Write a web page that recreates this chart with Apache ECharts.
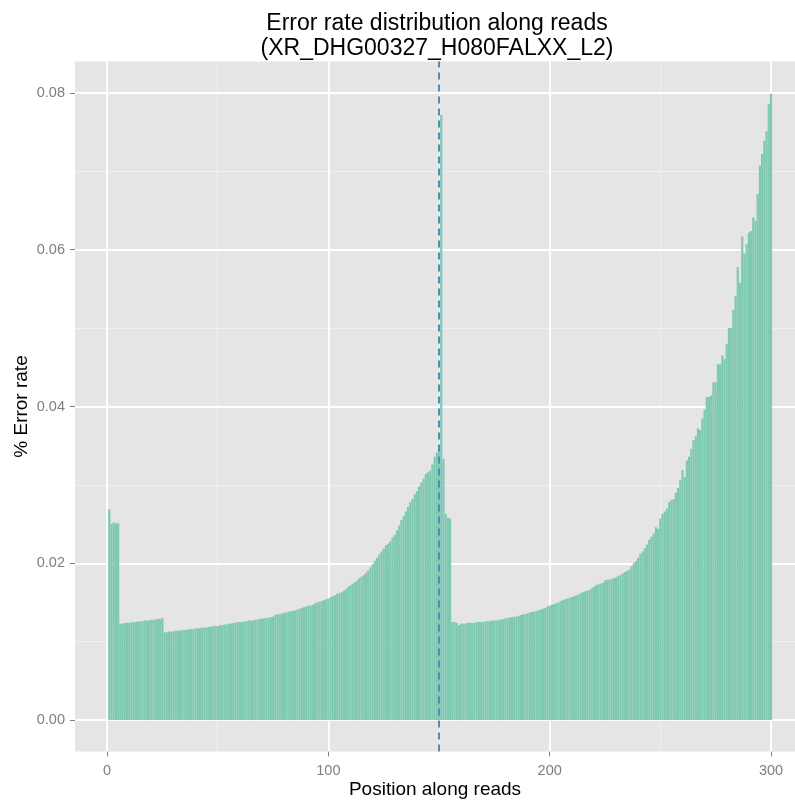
<!DOCTYPE html>
<html>
<head>
<meta charset="utf-8">
<script src="https://cdn.jsdelivr.net/npm/echarts@6/dist/echarts.min.js"></script>
<style>
html,body{margin:0;padding:0;background:#ffffff;}
#chart{width:795px;height:801px;}
</style>
</head>
<body>
<div id="chart"></div>
<script>
// Error rate per read position (positions 1..300)
const errorRate1to100 = [
  0.0269, 0.0250, 0.0252, 0.0251, 0.0251, 0.0123, 0.0123, 0.0124, 0.0124, 0.0124,
  0.0125, 0.0125, 0.0125, 0.0126, 0.0126, 0.0126, 0.0127, 0.0127, 0.0127, 0.0128,
  0.0128, 0.0128, 0.0129, 0.0129, 0.0130, 0.0112, 0.0112, 0.0113, 0.0113, 0.0113,
  0.0114, 0.0114, 0.0114, 0.0115, 0.0115, 0.0115, 0.0116, 0.0116, 0.0116, 0.0117,
  0.0117, 0.0117, 0.0118, 0.0118, 0.0118, 0.0119, 0.0119, 0.0120, 0.0120, 0.0120,
  0.0121, 0.0121, 0.0122, 0.0122, 0.0123, 0.0123, 0.0124, 0.0124, 0.0125, 0.0125,
  0.0125, 0.0126, 0.0126, 0.0127, 0.0127, 0.0127, 0.0128, 0.0128, 0.0129, 0.0129,
  0.0130, 0.0130, 0.0131, 0.0131, 0.0132, 0.0134, 0.0135, 0.0135, 0.0136, 0.0137,
  0.0137, 0.0138, 0.0139, 0.0139, 0.0140, 0.0141, 0.0142, 0.0143, 0.0144, 0.0145,
  0.0146, 0.0146, 0.0147, 0.0149, 0.0150, 0.0151, 0.0152, 0.0153, 0.0154, 0.0155
];
const errorRate101to200 = [
  0.0157, 0.0158, 0.0159, 0.0161, 0.0162, 0.0163, 0.0165, 0.0167, 0.0170, 0.0172,
  0.0174, 0.0176, 0.0178, 0.0181, 0.0183, 0.0185, 0.0188, 0.0191, 0.0195, 0.0199,
  0.0203, 0.0207, 0.0211, 0.0215, 0.0219, 0.0223, 0.0225, 0.0228, 0.0233, 0.0236,
  0.0242, 0.0248, 0.0255, 0.0260, 0.0266, 0.0272, 0.0278, 0.0282, 0.0288, 0.0292,
  0.0298, 0.0303, 0.0308, 0.0314, 0.0316, 0.0318, 0.0326, 0.0336, 0.0341, 0.0344,
  0.0772, 0.0333, 0.0263, 0.0258, 0.0257, 0.0125, 0.0125, 0.0124, 0.0121, 0.0123,
  0.0123, 0.0123, 0.0124, 0.0124, 0.0124, 0.0124, 0.0125, 0.0125, 0.0125, 0.0125,
  0.0126, 0.0126, 0.0126, 0.0127, 0.0127, 0.0127, 0.0128, 0.0128, 0.0129, 0.0130,
  0.0130, 0.0131, 0.0131, 0.0132, 0.0132, 0.0133, 0.0134, 0.0135, 0.0135, 0.0136,
  0.0137, 0.0138, 0.0138, 0.0139, 0.0140, 0.0141, 0.0142, 0.0143, 0.0145, 0.0146
];
const errorRate201to300 = [
  0.0147, 0.0148, 0.0149, 0.0150, 0.0152, 0.0153, 0.0154, 0.0155, 0.0156, 0.0157,
  0.0158, 0.0159, 0.0160, 0.0162, 0.0163, 0.0164, 0.0165, 0.0166, 0.0168, 0.0170,
  0.0172, 0.0173, 0.0174, 0.0175, 0.0178, 0.0179, 0.0179, 0.0180, 0.0181, 0.0182,
  0.0184, 0.0185, 0.0187, 0.0189, 0.0190, 0.0192, 0.0196, 0.0200, 0.0203, 0.0207,
  0.0212, 0.0215, 0.0219, 0.0224, 0.0230, 0.0234, 0.0238, 0.0246, 0.0244, 0.0257,
  0.0263, 0.0266, 0.0270, 0.0278, 0.0281, 0.0282, 0.0290, 0.0296, 0.0306, 0.0319,
  0.0310, 0.0331, 0.0336, 0.0346, 0.0357, 0.0362, 0.0372, 0.0370, 0.0385, 0.0396,
  0.0412, 0.0412, 0.0414, 0.0431, 0.0431, 0.0454, 0.0454, 0.0465, 0.0461, 0.0480,
  0.0500, 0.0500, 0.0523, 0.0541, 0.0578, 0.0558, 0.0617, 0.0595, 0.0607, 0.0622,
  0.0624, 0.0641, 0.0637, 0.0671, 0.0707, 0.0722, 0.0739, 0.0751, 0.0786, 0.0799
];
const xTicks = [0, 100, 200, 300];
const xMinorTicks = [50, 150, 250];
const yTicks = [0, 0.02, 0.04, 0.06, 0.08];
const yMinorTicks = [0.01, 0.03, 0.05, 0.07];
const readMidpoint = 150;
const titleLines = ['Error rate distribution along reads', '(XR_DHG00327_H080FALXX_L2)'];
const xTitle = 'Position along reads';
const yTitle = '% Error rate';

const errorRate = errorRate1to100.concat(errorRate101to200, errorRate201to300);
const barData = errorRate.map((v, i) => [i + 1, v]);

const FONT = '"Liberation Sans", Arial, Helvetica, sans-serif';
const chart = echarts.init(document.getElementById('chart'), null, {renderer: 'canvas'});

const gridLines = []
  .concat(yMinorTicks.map(v => ({yAxis: v, lineStyle: {color: '#f2f2f2', width: 0.9, type: 'solid'}})))
  .concat(xMinorTicks.map(v => ({xAxis: v, lineStyle: {color: '#f2f2f2', width: 0.9, type: 'solid'}})))
  .concat(yTicks.map(v => ({yAxis: v, lineStyle: {color: '#ffffff', width: 1.8, type: 'solid'}})))
  .concat(xTicks.map(v => ({xAxis: v, lineStyle: {color: '#ffffff', width: 1.8, type: 'solid'}})));

const option = {
  animation: false,
  title: {
    text: titleLines.join('\n'),
    left: 432,
    top: 6,
    textAlign: 'center',
    textStyle: {fontFamily: FONT, fontSize: 23, fontWeight: 'normal', color: '#000000', lineHeight: 25}
  },
  grid: {
    left: 75, right: 0, top: 61.6, bottom: 49.6,
    show: true, backgroundColor: '#e5e5e5', borderWidth: 0,
    containLabel: false, outerBoundsMode: 'none'
  },
  xAxis: {
    type: 'value', min: -14.5, max: 310.85,
    name: xTitle, nameLocation: 'middle', nameGap: 29, nameMoveOverlap: false,
    nameTextStyle: {fontFamily: FONT, fontSize: 19, color: '#000000'},
    axisLine: {show: false, onZero: false},
    axisTick: {show: true, length: 5, lineStyle: {color: '#7f7f7f', width: 1}, customValues: xTicks},
    axisLabel: {customValues: xTicks, color: '#7f7f7f', fontFamily: FONT, fontSize: 14.5, margin: 12},
    splitLine: {show: false}
  },
  yAxis: {
    type: 'value', min: -0.004, max: 0.084,
    name: yTitle, nameLocation: 'middle', nameGap: 44, nameMoveOverlap: false,
    nameTextStyle: {fontFamily: FONT, fontSize: 19, color: '#000000'},
    axisLine: {show: false, onZero: false},
    axisTick: {show: true, length: 5, lineStyle: {color: '#7f7f7f', width: 1}, customValues: yTicks},
    axisLabel: {customValues: yTicks, color: '#7f7f7f', fontFamily: FONT, fontSize: 14.5, margin: 10,
      formatter: v => Number(v).toFixed(2)},
    splitLine: {show: false}
  },
  series: [
    {
      type: 'line', data: [], silent: true, z: 1,
      markLine: {silent: true, symbol: ['none', 'none'], z: 1, animation: false,
        label: {show: false}, emphasis: {disabled: true}, data: gridLines}
    },
    {
      type: 'bar', data: barData, barWidth: '100%', z: 2, silent: true,
      itemStyle: {color: '#7fc9b2'},
      markLine: {silent: true, symbol: ['none', 'none'], z: 5, animation: false,
        label: {show: false}, emphasis: {disabled: true},
        lineStyle: {color: '#4f8ac2', width: 2, type: [7, 5]},
        data: [{xAxis: readMidpoint}]}
    }
  ]
};
chart.setOption(option);
</script>
</body>
</html>
